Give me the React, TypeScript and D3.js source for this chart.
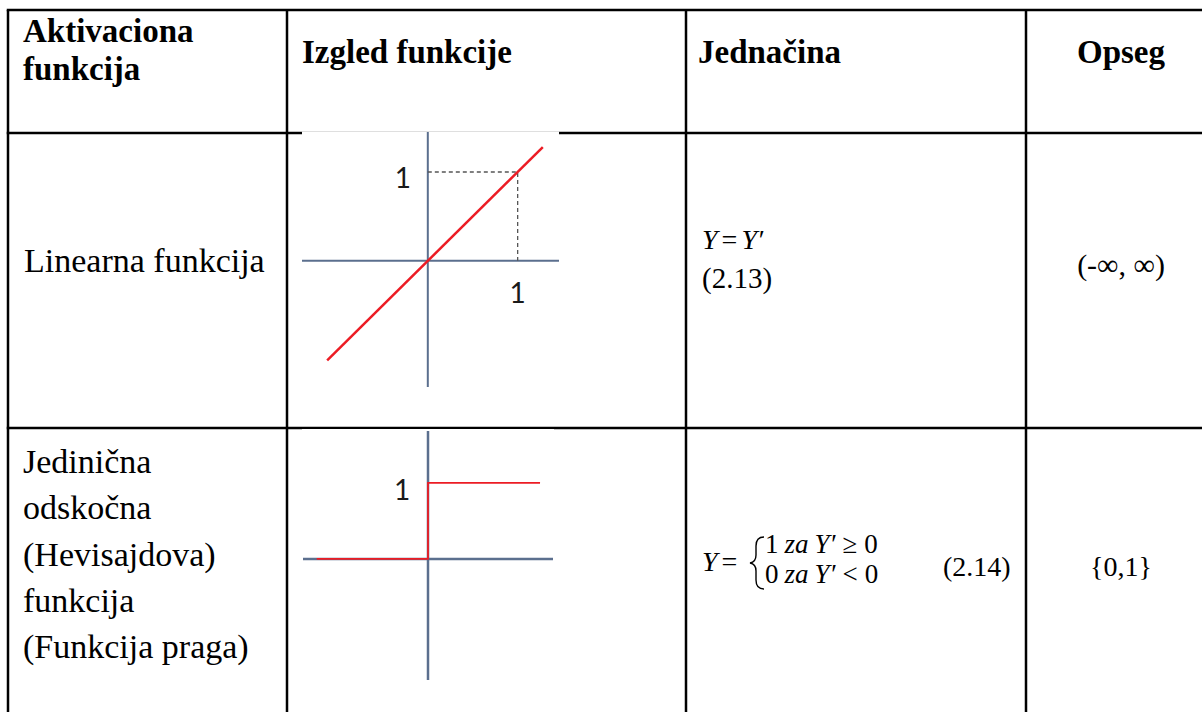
import React from 'react';
import * as d3 from 'd3';

// table content
const headerCol1 = ['Aktivaciona', 'funkcija'];
const headers = ['Izgled funkcije', 'Jednačina', 'Opseg'];
const linearName = ['Linearna funkcija'];
const stepName = ['Jedinična', 'odskočna', '(Hevisajdova)', 'funkcija', '(Funkcija praga)'];
const eqNumbers = ['(2.13)', '(2.14)'];
const ranges = ['(-∞, ∞)', '{0,1}'];
const tickLabel = '1';

// function graphs
const linearPoints: [number, number][] = [[-1.12, -1.12], [1.28, 1.28]];
const linearGuide: [number, number] = [1, 1];
const linearXDomain = [-1.4, 1.46];
const linearYDomain = [-1.42, 1.45];

const stepPoints: [number, number][] = [[-1.46, 0], [0, 0], [0, 1], [1.47, 1]];
const stepXDomain = [-1.64, 1.64];
const stepYDomain = [-1.59, 1.68];

const W = 1202;
const H = 712;
const colX = [8, 287, 686, 1026];
const rowY = [10, 133, 428];
const AXIS = '#5b6f8e';
const RED = '#ec1c24';
const serif = '"Liberation Serif", "Times New Roman", serif';
const sans = 'Lato, "Open Sans", sans-serif';

const LinearGraph = () => {
    const x = d3.scaleLinear().domain(linearXDomain).range([302, 559]);
    const y = d3.scaleLinear().domain(linearYDomain).range([387, 132]);
    const line = d3.line<[number, number]>().x(d => x(d[0])).y(d => y(d[1]));
    const [gx, gy] = linearGuide;
    return (
        <g>
            <rect x={302} y={131.5} width={257} height={262} fill="#fff" />
            <line x1={x(linearXDomain[0])} x2={x(linearXDomain[1])} y1={y(0)} y2={y(0)} stroke={AXIS} strokeWidth={2} />
            <line x1={x(0)} x2={x(0)} y1={y(linearYDomain[0])} y2={y(linearYDomain[1])} stroke={AXIS} strokeWidth={2} />
            <path d={`M${x(0)},${y(gy)}H${x(gx)}V${y(0)}`} fill="none" stroke="#555" strokeWidth={1.3} strokeDasharray="4 3" />
            <path d={line(linearPoints) || ''} fill="none" stroke={RED} strokeWidth={2.5} />
            <text x={x(0) - 25} y={y(gy) + 16} fontFamily={sans} fontSize={28} fill="#1a1a1a" textAnchor="middle">{tickLabel}</text>
            <text x={x(gx)} y={y(0) + 42} fontFamily={sans} fontSize={28} fill="#1a1a1a" textAnchor="middle">{tickLabel}</text>
        </g>
    );
};

const StepGraph = () => {
    const x = d3.scaleLinear().domain(stepXDomain).range([303, 553]);
    const y = d3.scaleLinear().domain(stepYDomain).range([680, 431]);
    const line = d3.line<[number, number]>().x(d => x(d[0])).y(d => y(d[1]));
    return (
        <g>
            <rect x={302} y={429} width={252} height={258} fill="#fff" />
            <line x1={x(stepXDomain[0])} x2={x(stepXDomain[1])} y1={y(0)} y2={y(0)} stroke={AXIS} strokeWidth={2.5} />
            <line x1={x(0)} x2={x(0)} y1={y(stepYDomain[0])} y2={y(stepYDomain[1])} stroke={AXIS} strokeWidth={2.5} />
            <path d={line(stepPoints) || ''} fill="none" stroke={RED} strokeWidth={1.8} />
            <text x={x(0) - 26} y={y(1) + 17} fontFamily={sans} fontSize={28} fill="#1a1a1a" textAnchor="middle">{tickLabel}</text>
        </g>
    );
};

export default function App() {
    const cellText = { fontFamily: serif, fill: '#000' };
    const midOpseg = (colX[3] + 1216) / 2;
    return (
        <svg width={W} height={H} style={{ position: 'absolute', left: 0, top: 0, background: '#fff' }}>
            <rect width={W} height={H} fill="#fff" />

            {/* header row */}
            {headerCol1.map((t, i) => (
                <text key={t} x={23} y={42 + i * 38} {...cellText} fontSize={33} fontWeight="bold">{t}</text>
            ))}
            <text x={302} y={63} {...cellText} fontSize={33} fontWeight="bold">{headers[0]}</text>
            <text x={698} y={63} {...cellText} fontSize={33} fontWeight="bold">{headers[1]}</text>
            <text x={midOpseg} y={63} {...cellText} fontSize={33} fontWeight="bold" textAnchor="middle">{headers[2]}</text>

            {/* row: linear */}
            {linearName.map(t => (
                <text key={t} x={24} y={272} {...cellText} fontSize={34}>{t}</text>
            ))}
            <text x={702} y={249} {...cellText} fontSize={28}>
                <tspan fontStyle="italic">Y</tspan>
                <tspan dx={4}>=</tspan>
                <tspan dx={4} fontStyle="italic">Y′</tspan>
            </text>
            <text x={702} y={288} {...cellText} fontSize={29}>{eqNumbers[0]}</text>
            <text x={midOpseg} y={275} {...cellText} fontSize={30} textAnchor="middle">{ranges[0]}</text>

            {/* row: step */}
            <text x={702} y={571} {...cellText} fontSize={28}>
                <tspan fontStyle="italic">Y</tspan>
                <tspan dx={4}>=</tspan>
            </text>
            <path d="M764,537 Q756,537 756,546 L756,555 Q756,562 750,563 Q756,564 756,571 L756,580 Q756,589 764,589" fill="none" stroke="#000" strokeWidth={1.4} />
            <text x={765} y={553} {...cellText} fontSize={27}>
                <tspan>1</tspan>
                <tspan dx={6} fontStyle="italic">za</tspan>
                <tspan dx={6} fontStyle="italic">Y′</tspan>
                <tspan dx={7}>≥</tspan>
                <tspan dx={7}>0</tspan>
            </text>
            <text x={765} y={583} {...cellText} fontSize={27}>
                <tspan>0</tspan>
                <tspan dx={6} fontStyle="italic">za</tspan>
                <tspan dx={6} fontStyle="italic">Y′</tspan>
                <tspan dx={7}>&lt;</tspan>
                <tspan dx={7}>0</tspan>
            </text>
            <text x={943} y={576} {...cellText} fontSize={28}>{eqNumbers[1]}</text>
            <text x={midOpseg} y={576} {...cellText} fontSize={28} textAnchor="middle">{ranges[1]}</text>

            {stepName.map((t, i) => (
                <text key={t} x={23} y={473 + i * 46.3} {...cellText} fontSize={34}>{t}</text>
            ))}

            {/* table rules */}
            <g stroke="#000" strokeWidth={2.5}>
                {rowY.map(yy => <line key={yy} x1={colX[0] - 1.25} x2={W} y1={yy} y2={yy} />)}
                {colX.map(xx => <line key={xx} x1={xx} x2={xx} y1={rowY[0]} y2={H} />)}
            </g>

            {/* function images sit on top of the rules */}
            <LinearGraph />
            <StepGraph />
        </svg>
    );
}
